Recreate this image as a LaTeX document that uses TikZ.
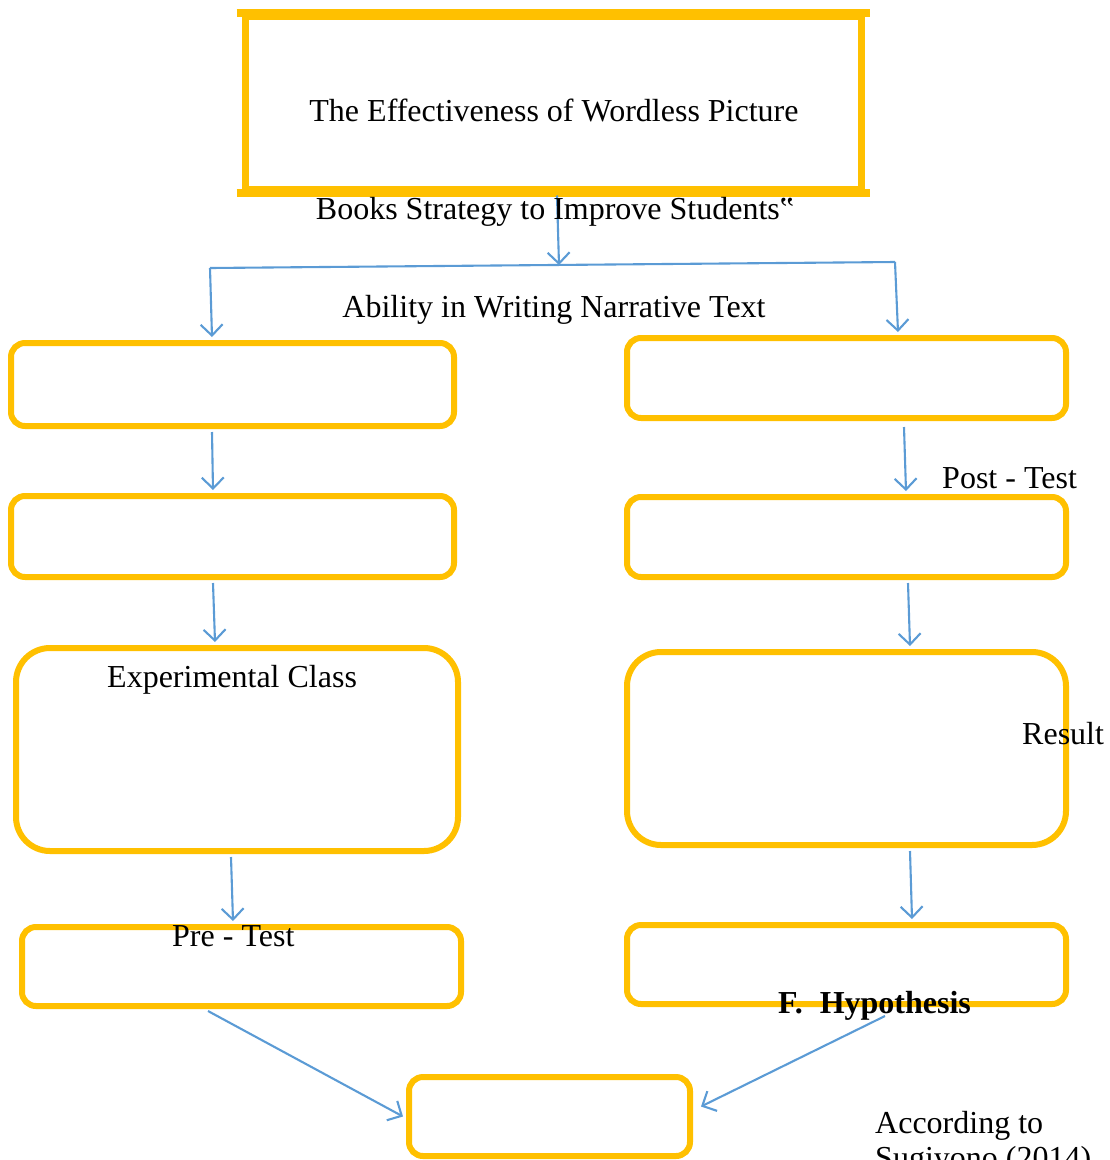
\documentclass[tikz,border=0pt]{standalone}
\usepackage{fontspec}
\setmainfont{Liberation Serif}
\usetikzlibrary{arrows.meta}
\definecolor{gold}{HTML}{FFC000}
\definecolor{lblue}{HTML}{5B9BD5}
\tikzset{
  ybox/.style={draw=gold, line width=6pt, rounded corners=14pt, inner sep=0pt},
  bigbox/.style={draw=gold, line width=6pt, rounded corners=34pt, inner sep=0pt},
  topbox/.style={draw=gold, line width=7pt, inner sep=0pt},
  topedge/.style={draw=gold, line width=8pt},
  arr/.style={draw=lblue, line width=2.1pt, -{Straight Barb[length=11pt,width=22pt,line width=2.1pt]}},
  bline/.style={draw=lblue, line width=2.1pt},
  txt/.style={inner sep=0pt, anchor=base, font=\fontsize{32}{36}\selectfont},
  txtw/.style={inner sep=0pt, anchor=base west, font=\fontsize{32}{36}\selectfont}
}
\begin{document}
\begin{tikzpicture}[x=1pt,y=-1pt]
\useasboundingbox (0,0) rectangle (1110,1160);
% boxes
\node[topbox, minimum width=616pt, minimum height=173pt] (T) at (553,102.5) {};
\draw[topedge] ([xshift=-5pt]T.north west) -- ([xshift=5pt]T.north east);
\draw[topedge] ([xshift=-5pt]T.south west) -- ([xshift=5pt]T.south east);
\node[ybox, minimum width=443pt, minimum height=83pt] (L1) at (232.5,384.5) {};
\node[ybox, minimum width=443pt, minimum height=81pt] (L2) at (232.5,536.5) {};
\node[bigbox, minimum width=442pt, minimum height=203pt] (L3) at (237,749.5) {};
\node[ybox, minimum width=439pt, minimum height=79pt] (L4) at (241.5,966.5) {};
\node[ybox, minimum width=439pt, minimum height=80pt] (R1) at (846.5,378) {};
\node[ybox, minimum width=439pt, minimum height=80pt] (R2) at (846.5,537) {};
\node[bigbox, minimum width=439pt, minimum height=193pt] (R3) at (846.5,748.5) {};
\node[ybox, minimum width=439pt, minimum height=79pt] (R4) at (846.5,964.5) {};
\node[ybox, minimum width=281pt, minimum height=79pt] (B) at (549.5,1116.5) {};
% junction
\coordinate (jl) at (210,268);
\coordinate (jr) at (895,262);
\coordinate (jm) at (559,265);
\draw[bline] (jl) -- (jr);
\draw[arr] ([xshift=4pt,yshift=-3pt]T.south) -- (jm);
\draw[arr] (jl) -- ([xshift=-20.5pt,yshift=3pt]L1.north);
\draw[arr] (jr) -- ([xshift=51.5pt,yshift=3pt]R1.north);
\draw[arr] ([xshift=-20.5pt,yshift=-3pt]L1.south) -- ([xshift=-19.5pt,yshift=3pt]L2.north);
\draw[arr] ([xshift=-19.5pt,yshift=-3pt]L2.south) -- ([xshift=-22pt,yshift=3pt]L3.north);
\draw[arr] ([xshift=-6pt,yshift=-3pt]L3.south) -- ([xshift=-8.5pt,yshift=3pt]L4.north);
\draw[arr] ([xshift=57.5pt,yshift=-6pt]R1.south) -- ([xshift=59.5pt,yshift=3pt]R2.north);
\draw[arr] ([xshift=61.5pt,yshift=-3pt]R2.south) -- ([xshift=63.5pt,yshift=3pt]R3.north);
\draw[arr] ([xshift=63.5pt,yshift=-3pt]R3.south) -- ([xshift=65.5pt,yshift=3pt]R4.north);
\draw[arr] ([xshift=-33.5pt,yshift=-2pt]L4.south) -- ([xshift=-3pt]B.west);
\draw[arr] ([xshift=38.5pt,yshift=-9pt]R4.south) -- ([xshift=8pt,yshift=10pt]B.east);
% texts
\node[txt] (t1) at (554,121) {The Effectiveness of Wordless Picture};
\node[txt] (t2) at (555,219) {Books Strategy to Improve Students‟};
\node[txt] (t3) at (554,317) {Ability in Writing Narrative Text};
\node[txtw] (t4) at (942,488) {Post - Test};
\node[txtw] (t5) at (107,687) {Experimental Class};
\node[txtw] (t6) at (1022,744) {Result};
\node[txtw] (t7) at (172,946) {Pre - Test};
\node[txtw] (t8) at (778,1013) {\bfseries F.\hspace{17pt}Hypothesis};
\node[txtw] (t9) at (875,1133) {According to};
\node[txtw] (t10) at (875,1168) {Sugiyono (2014)};
\end{tikzpicture}
\end{document}
